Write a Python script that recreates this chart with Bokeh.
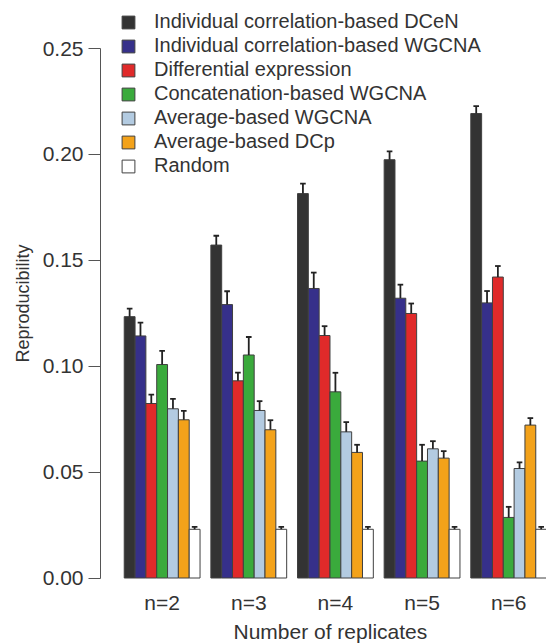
from bokeh.plotting import figure
from bokeh.models import Range1d, FixedTicker, Legend, LegendItem, CustomJSTickFormatter, Title
from bokeh.embed import file_html
from bokeh.resources import INLINE

groups = ["n=2", "n=3", "n=4", "n=5", "n=6"]
methods = ["Individual correlation-based DCeN", "Individual correlation-based WGCNA",
           "Differential expression", "Concatenation-based WGCNA",
           "Average-based WGCNA", "Average-based DCp", "Random"]
colors = ["#333333", "#36308a", "#e02a2a", "#3aaa3c", "#b3cbe1", "#f3a21a", "#ffffff"]

dcen = [0.1234, 0.1572, 0.1815, 0.1975, 0.2193]
wgcna_ind = [0.1143, 0.1291, 0.1367, 0.1321, 0.1299]
diff_expr = [0.0824, 0.0931, 0.1145, 0.1249, 0.1421]
concat_wgcna = [0.1008, 0.1053, 0.0879, 0.0552, 0.0286]
avg_wgcna = [0.0799, 0.0791, 0.0690, 0.0610, 0.0517]
avg_dcp = [0.0747, 0.0700, 0.0593, 0.0566, 0.0722]
random_ = [0.0230, 0.0230, 0.0230, 0.0230, 0.0230]

dcen_err = [0.0038, 0.0044, 0.0047, 0.0039, 0.0035]
wgcna_ind_err = [0.0063, 0.0063, 0.0075, 0.0064, 0.0056]
diff_expr_err = [0.0042, 0.0039, 0.0044, 0.0047, 0.0052]
concat_wgcna_err = [0.0064, 0.0085, 0.0090, 0.0077, 0.0050]
avg_wgcna_err = [0.0047, 0.0044, 0.0046, 0.0036, 0.0029]
avg_dcp_err = [0.0042, 0.0045, 0.0036, 0.0033, 0.0033]
random_err = [0.0011, 0.0011, 0.0011, 0.0011, 0.0011]

values = [dcen, wgcna_ind, diff_expr, concat_wgcna, avg_wgcna, avg_dcp, random_]
errors = [dcen_err, wgcna_ind_err, diff_expr_err, concat_wgcna_err, avg_wgcna_err, avg_dcp_err, random_err]
y_ticks = [0.00, 0.05, 0.10, 0.15, 0.20, 0.25]
x_title = "Number of replicates"
y_title = "Reproducibility"

FONT = "Liberation Sans"
TXT = "#333333"
FRAME_H = 582

p = figure(width=546, height=644, output_backend="svg", toolbar_location=None,
           x_range=Range1d(-2.19, 38.99), y_range=Range1d(-0.00212, 0.27267),
           min_border_left=100, min_border_right=0, min_border_top=0, min_border_bottom=62)
p.outline_line_color = None
p.grid.grid_line_color = None
p.background_fill_color = "white"

n_m = len(methods)
step = n_m + 1
items = []
for j, (vals, errs, col, name) in enumerate(zip(values, errors, colors, methods)):
    xs = [g * step + j + 0.5 for g in range(len(groups))]
    r = p.vbar(x=xs, top=vals, bottom=0, width=1.0, fill_color=col,
               line_color="#404040", line_width=1)
    tops = [v + e for v, e in zip(vals, errs)]
    p.segment(x0=xs, y0=vals, x1=xs, y1=tops, line_color="#222222", line_width=1.8)
    p.segment(x0=[x - 0.26 for x in xs], y0=tops, x1=[x + 0.26 for x in xs], y1=tops,
              line_color="#222222", line_width=1.8)
    items.append(LegendItem(label=name, renderers=[r]))

legend = Legend(items=items)
legend.label_text_font = FONT
legend.label_text_font_size = "20px"
legend.label_text_color = TXT
legend.glyph_width = 16
legend.glyph_height = 16
legend.label_height = 20
legend.spacing = 1
legend.padding = 0
legend.margin = 0
legend.label_standoff = 18
legend.border_line_color = None
legend.background_fill_alpha = 0
legend.location = (20, FRAME_H - 10 - 167)
p.add_layout(legend)

# y axis
p.yaxis.ticker = FixedTicker(ticks=y_ticks)
p.yaxis.bounds = (0, 0.25)
p.yaxis.formatter = CustomJSTickFormatter(code="return tick.toFixed(2);")
p.yaxis.axis_line_color = "#555555"
p.yaxis.major_tick_line_color = "#555555"
p.yaxis.major_tick_out = 12
p.yaxis.major_tick_in = 0
p.yaxis.minor_tick_line_color = None
p.yaxis.major_label_text_font = FONT
p.yaxis.major_label_text_font_size = "21px"
p.yaxis.major_label_text_color = TXT
p.yaxis.major_label_standoff = 5

# x axis
centers = [g * step + n_m / 2 for g in range(len(groups))]
p.xaxis.ticker = FixedTicker(ticks=centers)
p.xaxis.major_label_overrides = {c: g for c, g in zip(centers, groups)}
p.xaxis.axis_line_color = None
p.xaxis.major_tick_line_color = None
p.xaxis.major_tick_out = 0
p.xaxis.major_tick_in = 0
p.xaxis.minor_tick_line_color = None
p.xaxis.major_label_text_font = FONT
p.xaxis.major_label_text_font_size = "21px"
p.xaxis.major_label_text_color = TXT
p.xaxis.major_label_standoff = 8

# axis titles as side titles (allow offsets matching the reference)
xt = Title(text=x_title, align="left", offset=133, text_font=FONT, text_font_size="21px",
           text_font_style="normal", text_color=TXT, standoff=3)
p.add_layout(xt, "below")
yt = Title(text=y_title, align="left", offset=220, text_font=FONT, text_font_size="18px",
           text_font_style="normal", text_color=TXT, standoff=14)
p.add_layout(yt, "left")

open("out.html", "w").write(file_html(p, INLINE))
